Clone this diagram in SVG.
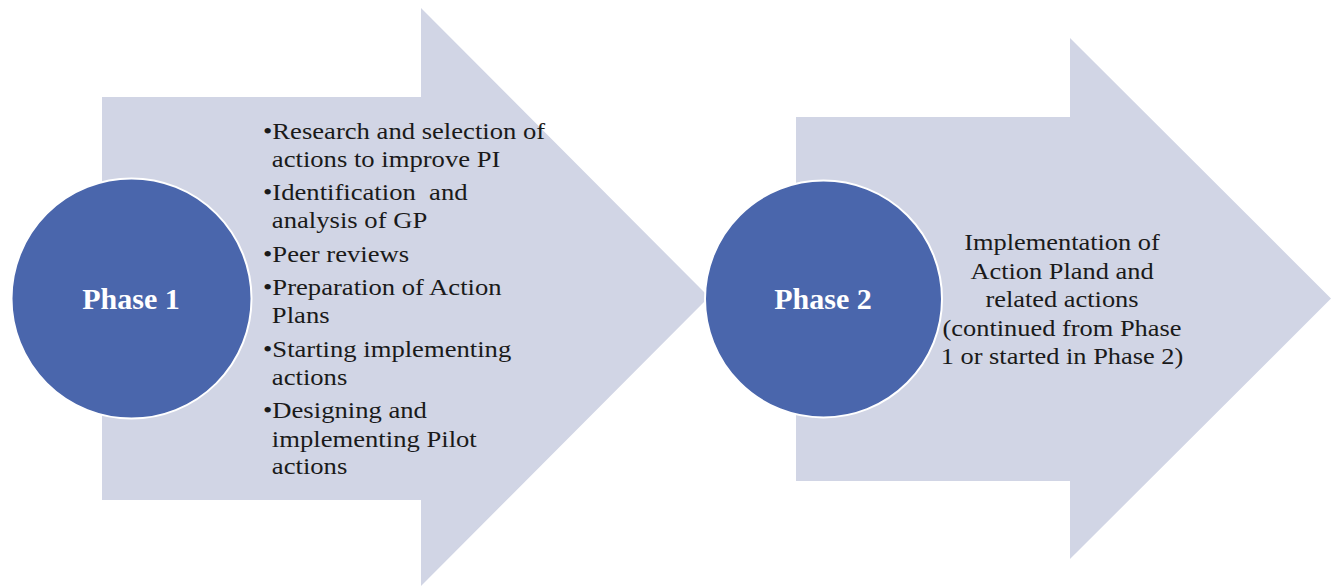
<svg xmlns="http://www.w3.org/2000/svg" width="1333" height="586" viewBox="0 0 1333 586">
<style>
.arrow{fill:#D1D5E5;stroke:none}
.circ{fill:#4A66AC;stroke:#FFFFFF;stroke-width:2}
.phase{font-family:"Liberation Serif","Times New Roman",serif;font-weight:bold;font-size:30px;fill:#FFFFFF;text-anchor:middle}
.body{font-family:"Liberation Serif","Times New Roman",serif;font-size:24px;fill:#1a1a1a}
.mid{text-anchor:middle}
</style>
<rect width="1333" height="586" fill="#FFFFFF"/>
<g id="arrow1">
<polygon class="arrow" points="102,97 421,97 421,8 709,297 421,586 421,500 102,500"/>
</g>
<g id="arrow2">
<polygon class="arrow" points="796,117 1070,117 1070,38 1331,298.5 1070,559 1070,481 796,481"/>
</g>
<g id="phase1">
<circle class="circ" cx="131.5" cy="298.5" r="120"/>
<text class="phase" x="131" y="309">Phase 1</text>
</g>
<g id="phase1-list" transform="translate(263,0) scale(1.11,1)">
<text class="body" x="0" y="139">•Research and selection of</text>
<text class="body" x="8" y="167.5">actions to improve PI</text>
<text class="body" x="0" y="200.5" xml:space="preserve">•Identification  and</text>
<text class="body" x="8" y="228.5">analysis of GP</text>
<text class="body" x="0" y="262.5">•Peer reviews</text>
<text class="body" x="0" y="295">•Preparation of Action</text>
<text class="body" x="8" y="323.5">Plans</text>
<text class="body" x="0" y="357">•Starting implementing</text>
<text class="body" x="8" y="385">actions</text>
<text class="body" x="0" y="418">•Designing and</text>
<text class="body" x="8" y="447">implementing Pilot</text>
<text class="body" x="8" y="474.5">actions</text>
</g>
<g id="phase2">
<circle class="circ" cx="823.5" cy="299" r="118.5"/>
<text class="phase" x="823" y="309">Phase 2</text>
</g>
<g id="phase2-text" transform="translate(1062,0) scale(1.1,1)">
<text class="body mid" x="0" y="250">Implementation of</text>
<text class="body mid" x="0" y="279">Action Pland and</text>
<text class="body mid" x="0" y="307">related actions</text>
<text class="body mid" x="0" y="336">(continued from Phase</text>
<text class="body mid" x="0" y="364">1 or started in Phase 2)</text>
</g>
<g id="connectors"/>
</svg>
